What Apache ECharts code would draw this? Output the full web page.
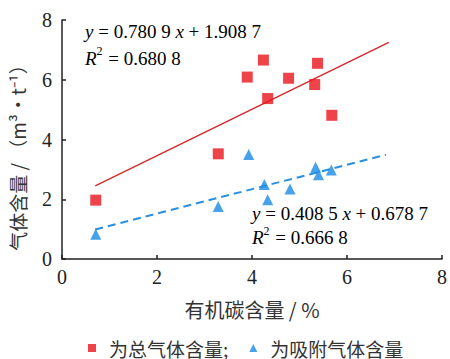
<!DOCTYPE html>
<html><head><meta charset="utf-8">
<script src="https://cdn.jsdelivr.net/npm/echarts@6/dist/echarts.min.js"></script>
<style>html,body{margin:0;padding:0;background:#fff}#c{width:450px;height:359px}</style>
</head><body><div id="c"></div>
<script>
// data
const totalX = [0.71, 3.29, 3.90, 4.24, 4.33, 4.77, 5.32, 5.38, 5.68];
const totalY = [1.97, 3.52, 6.09, 6.66, 5.37, 6.05, 5.84, 6.55, 4.81];
const adsX = [0.71, 3.29, 3.93, 4.26, 4.33, 4.80, 5.34, 5.40, 5.67];
const adsY = [0.83, 1.76, 3.50, 2.49, 1.98, 2.34, 3.07, 2.82, 2.98];
const totalFitX = [0.70, 6.88];
const totalFitY = [2.45, 7.25];
const adsFitX = [0.70, 6.82];
const adsFitY = [0.99, 3.49];
const xTicks = [0, 2, 4, 6, 8];
const yTicks = [0, 2, 4, 6, 8];
const seriesNames = ['为总气体含量;', '为吸附气体含量'];

const zip = (a, b) => a.map((v, i) => [v, b[i]]);
const chart = echarts.init(document.getElementById('c'), null, {renderer: 'svg'});
const eqRich = {
  i: {fontStyle: 'italic', fontFamily: 'Liberation Serif', fontSize: 19, color: '#222'},
  n: {fontFamily: 'Liberation Serif', fontSize: 19, color: '#222'},
  s: {fontFamily: 'Liberation Serif', fontSize: 12, color: '#222', verticalAlign: 'top', padding: [0, 1, 9, 0]}
};
chart.setOption({
  backgroundColor: '#fff',
  animation: false,
  grid: {left: 62, right: 7, top: 20, bottom: 100, containLabel: false},
  xAxis: {
    type: 'value', min: xTicks[0], max: xTicks[xTicks.length - 1], interval: 2,
    axisLine: {lineStyle: {color: '#222', width: 1.5}},
    axisTick: {inside: true, length: 4, lineStyle: {color: '#222', width: 1.5}},
    axisLabel: {fontFamily: 'Liberation Serif', fontSize: 20, color: '#222', margin: 8},
    splitLine: {show: false},
    name: '有机碳含量 / %', nameLocation: 'middle', nameGap: 40,
    nameTextStyle: {fontFamily: 'Noto Sans CJK SC', fontSize: 20, color: '#333'}
  },
  yAxis: {
    type: 'value', min: yTicks[0], max: yTicks[yTicks.length - 1], interval: 2,
    axisLine: {show: true, lineStyle: {color: '#222', width: 1.5}},
    axisTick: {show: true, inside: true, length: 4, lineStyle: {color: '#222', width: 1.5}},
    axisLabel: {fontFamily: 'Liberation Serif', fontSize: 20, color: '#222', margin: 10},
    splitLine: {show: false}
  },
  legend: {
    top: 333, left: 83, padding: [5, 5, 0, 5], itemWidth: 8, itemHeight: 8, itemGap: 21,
    textStyle: {fontFamily: 'Noto Sans CJK SC', fontSize: 19, lineHeight: 20, color: '#333', padding: [0, 0, 0, 8]},
    data: [{name: seriesNames[0], icon: 'rect'}, {name: seriesNames[1], icon: 'triangle'}]
  },
  graphic: [
    {type: 'text', x: 17, y: 153, rotation: Math.PI / 2, z: 10,
     style: {text: '气体含量 / （m³·t⁻¹）', fontFamily: 'Noto Sans CJK SC', fontSize: 19, fill: '#333', align: 'center', verticalAlign: 'middle'}},
    {type: 'text', x: 85, y: 18, z: 10,
     style: {text: '{i|y}{n| = 0.780 9 }{i|x}{n| + 1.908 7}\n{i|R}{s|2}{n| = 0.680 8}', fontFamily: 'Liberation Serif', fontSize: 19, lineHeight: 27, rich: eqRich}},
    {type: 'text', x: 252, y: 201, z: 10,
     style: {text: '{i|y}{n| = 0.408 5 }{i|x}{n| + 0.678 7}\n{i|R}{s|2}{n| = 0.666 8}', fontFamily: 'Liberation Serif', fontSize: 19, lineHeight: 24, rich: eqRich}}
  ],
  series: [
    {name: 'fit1', type: 'line', data: zip(totalFitX, totalFitY), symbol: 'none', lineStyle: {color: '#d42a2a', width: 1.5}, z: 2},
    {name: 'fit2', type: 'line', data: zip(adsFitX, adsFitY), symbol: 'none', lineStyle: {color: '#2a8fe0', width: 2, type: [8, 5]}, z: 2},
    {name: seriesNames[0], type: 'scatter', data: zip(totalX, totalY), symbol: 'rect', symbolSize: 11, itemStyle: {color: '#e8141c'}, z: 3},
    {name: seriesNames[1], type: 'scatter', data: zip(adsX, adsY), symbol: 'triangle', symbolSize: 11, itemStyle: {color: '#1a8be6'}, z: 3}
  ]
});
</script></body></html>
